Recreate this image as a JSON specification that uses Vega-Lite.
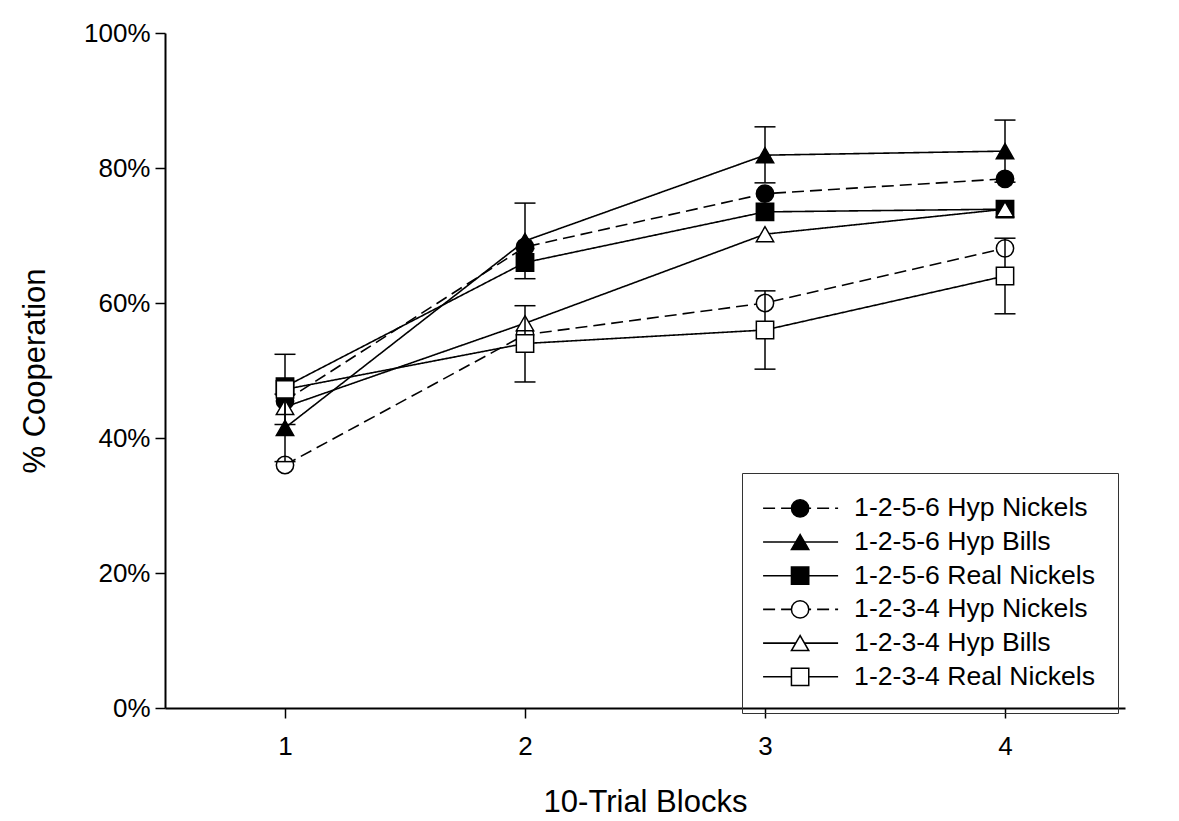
{
  "$schema": "https://vega.github.io/schema/vega-lite/v6.json",
  "width": 960,
  "height": 675,
  "autosize": {"type": "none"},
  "padding": {"left": 165, "top": 33, "right": 54, "bottom": 113},
  "background": "white",
  "config": {
    "view": {"stroke": null},
    "font": "Liberation Sans",
    "axis": {
      "grid": false,
      "labelFont": "Liberation Sans",
      "titleFont": "Liberation Sans",
      "titleFontWeight": "normal",
      "labelColor": "black",
      "titleColor": "black",
      "domainColor": "black",
      "tickColor": "black",
      "domainWidth": 2,
      "tickWidth": 1.5,
      "tickSize": 10,
      "labelFontSize": 26,
      "titleFontSize": 31
    }
  },
  "datasets": {
    "pts": [
      {"block": 1, "series": "1-2-5-6 Hyp Nickels", "group": "1-2-5-6 Hyp Nickels", "value": 45.5},
      {"block": 2, "series": "1-2-5-6 Hyp Nickels", "group": "1-2-5-6 Hyp Nickels", "value": 68.3},
      {"block": 3, "series": "1-2-5-6 Hyp Nickels", "group": "1-2-5-6 Hyp Nickels", "value": 76.2},
      {"block": 4, "series": "1-2-5-6 Hyp Nickels", "group": "1-2-5-6 Hyp Nickels", "value": 78.4},
      {"block": 1, "series": "1-2-5-6 Hyp Bills", "group": "1-2-5-6 Hyp Bills", "value": 41.5},
      {"block": 2, "series": "1-2-5-6 Hyp Bills", "group": "1-2-5-6 Hyp Bills", "value": 69.2},
      {"block": 3, "series": "1-2-5-6 Hyp Bills", "group": "1-2-5-6 Hyp Bills", "value": 81.9},
      {"block": 4, "series": "1-2-5-6 Hyp Bills", "group": "1-2-5-6 Hyp Bills", "value": 82.5},
      {"block": 1, "series": "1-2-5-6 Real Nickels", "group": "1-2-5-6 Real Nickels", "value": 47.6},
      {"block": 2, "series": "1-2-5-6 Real Nickels", "group": "1-2-5-6 Real Nickels", "value": 66.0},
      {"block": 3, "series": "1-2-5-6 Real Nickels", "group": "1-2-5-6 Real Nickels", "value": 73.5},
      {"block": 4, "series": "1-2-5-6 Real Nickels", "group": "1-2-5-6 Real Nickels", "value": 73.9},
      {"block": 1, "series": "1-2-3-4 Hyp Nickels", "group": "1-2-3-4 Hyp Nickels", "value": 36.0},
      {"block": 2, "series": "1-2-3-4 Hyp Nickels", "group": "1-2-3-4 Hyp Nickels", "value": 55.3},
      {"block": 3, "series": "1-2-3-4 Hyp Nickels", "group": "1-2-3-4 Hyp Nickels", "value": 60.0},
      {"block": 4, "series": "1-2-3-4 Hyp Nickels", "group": "1-2-3-4 Hyp Nickels", "value": 68.1},
      {"block": 1, "series": "1-2-3-4 Hyp Bills", "group": "1-2-3-4 Hyp Bills", "value": 44.6},
      {"block": 2, "series": "1-2-3-4 Hyp Bills", "group": "1-2-3-4 Hyp Bills", "value": 57.0},
      {"block": 3, "series": "1-2-3-4 Hyp Bills", "group": "1-2-3-4 Hyp Bills", "value": 70.2},
      {"block": 4, "series": "1-2-3-4 Hyp Bills", "group": "1-2-3-4 Hyp Bills", "value": 73.9},
      {"block": 1, "series": "1-2-3-4 Real Nickels", "group": "1-2-3-4 Real Nickels", "value": 47.2},
      {"block": 2, "series": "1-2-3-4 Real Nickels", "group": "1-2-3-4 Real Nickels", "value": 54.0},
      {"block": 3, "series": "1-2-3-4 Real Nickels", "group": "1-2-3-4 Real Nickels", "value": 56.0},
      {"block": 4, "series": "1-2-3-4 Real Nickels", "group": "1-2-3-4 Real Nickels", "value": 64.0}
    ],
    "err": [
      {"block": 1, "series": "1-2-5-6 Hyp Bills", "lo": 36.5, "hi": 46.5},
      {"block": 2, "series": "1-2-5-6 Hyp Bills", "lo": 63.6, "hi": 74.8},
      {"block": 3, "series": "1-2-5-6 Hyp Bills", "lo": 77.8, "hi": 86.1},
      {"block": 4, "series": "1-2-5-6 Hyp Bills", "lo": 77.9, "hi": 87.1},
      {"block": 1, "series": "1-2-3-4 Real Nickels", "lo": 42.0, "hi": 52.4},
      {"block": 2, "series": "1-2-3-4 Real Nickels", "lo": 48.3, "hi": 59.6},
      {"block": 3, "series": "1-2-3-4 Real Nickels", "lo": 50.2, "hi": 61.8},
      {"block": 4, "series": "1-2-3-4 Real Nickels", "lo": 58.4, "hi": 69.6}
    ]
  },
  "layer": [
    {
      "data": {"name": "pts"},
      "mark": {"type": "line", "color": "black", "strokeWidth": 1.6},
      "encoding": {
        "x": {
          "field": "block", "type": "quantitative", "title": "10-Trial Blocks",
          "scale": {"domain": [0.5, 4.5], "nice": false, "zero": false},
          "axis": {"values": [1, 2, 3, 4], "format": "d", "labelPadding": 15, "titlePadding": 28, "labelFlush": false}
        },
        "y": {
          "field": "value", "type": "quantitative", "title": "% Cooperation",
          "scale": {"domain": [0, 100], "nice": false},
          "axis": {"values": [0, 20, 40, 60, 80, 100], "labelExpr": "datum.value + '%'", "labelPadding": 5, "titlePadding": 32}
        },
        "strokeDash": {
          "field": "series", "type": "nominal",
          "sort": ["1-2-5-6 Hyp Nickels", "1-2-5-6 Hyp Bills", "1-2-5-6 Real Nickels", "1-2-3-4 Hyp Nickels", "1-2-3-4 Hyp Bills", "1-2-3-4 Real Nickels"],
          "scale": {
            "range": [[12, 6], [1, 0], [1, 0], [12, 6], [1, 0], [1, 0]]
          },
          "legend": {
            "orient": "none", "legendX": 577, "legendY": 440, "title": null,
            "symbolType": "M-3.41,0H14.59", "symbolSize": 69.44, "symbolStrokeColor": "black", "symbolStrokeWidth": 1.6,
            "symbolFillColor": "transparent",
            "labelFont": "Liberation Sans", "labelFontSize": 26.6, "labelColor": "black", "labelOffset": 63.5, "labelLimit": 400,
            "rowPadding": 6.7, "padding": 22, "strokeColor": "#333333"
          }
        }
      }
    },
    {
      "data": {"name": "pts"},
      "transform": [{"filter": "datum.series !== '1-2-5-6 Hyp Bills' && datum.series !== '1-2-3-4 Real Nickels'"}],
      "mark": {"type": "point", "filled": true, "strokeWidth": 1.5, "size": 300, "opacity": 1},
      "encoding": {
        "x": {"field": "block", "type": "quantitative", "title": "10-Trial Blocks"},
        "y": {"field": "value", "type": "quantitative", "title": "% Cooperation"},
        "shape": {
          "field": "group", "type": "nominal",
          "scale": {
            "domain": ["1-2-5-6 Hyp Nickels", "1-2-5-6 Hyp Bills", "1-2-5-6 Real Nickels", "1-2-3-4 Hyp Nickels", "1-2-3-4 Hyp Bills", "1-2-3-4 Real Nickels"],
            "range": ["circle", "triangle-up", "square", "circle", "triangle-up", "square"]
          },
          "legend": {
            "orient": "none", "legendX": 599.8, "legendY": 440, "title": null,
            "symbolSize": 300, "symbolStrokeColor": "black", "symbolStrokeWidth": 1.5,
            "labelExpr": "' '", "labelFont": "Liberation Sans", "labelFontSize": 26.6, "labelOpacity": 0, "labelOffset": 0, "labelLimit": 400,
            "rowPadding": 6.7, "padding": 22
          }
        },
        "fill": {
          "field": "group", "type": "nominal",
          "scale": {
            "domain": ["1-2-5-6 Hyp Nickels", "1-2-5-6 Hyp Bills", "1-2-5-6 Real Nickels", "1-2-3-4 Hyp Nickels", "1-2-3-4 Hyp Bills", "1-2-3-4 Real Nickels"],
            "range": ["black", "black", "black", "white", "white", "white"]
          },
          "legend": {
            "orient": "none", "legendX": 599.8, "legendY": 440, "title": null,
            "symbolSize": 300, "symbolStrokeColor": "black", "symbolStrokeWidth": 1.5,
            "labelExpr": "' '", "labelFont": "Liberation Sans", "labelFontSize": 26.6, "labelOpacity": 0, "labelOffset": 0, "labelLimit": 400,
            "rowPadding": 6.7, "padding": 22
          }
        },
        "stroke": {
          "field": "group", "type": "nominal",
          "scale": {
            "domain": ["1-2-5-6 Hyp Nickels", "1-2-5-6 Hyp Bills", "1-2-5-6 Real Nickels", "1-2-3-4 Hyp Nickels", "1-2-3-4 Hyp Bills", "1-2-3-4 Real Nickels"],
            "range": ["black", "black", "black", "black", "black", "black"]
          },
          "legend": {
            "orient": "none", "legendX": 599.8, "legendY": 440, "title": null,
            "symbolSize": 300, "symbolStrokeColor": "black", "symbolStrokeWidth": 1.5,
            "labelExpr": "' '", "labelFont": "Liberation Sans", "labelFontSize": 26.6, "labelOpacity": 0, "labelOffset": 0, "labelLimit": 400,
            "rowPadding": 6.7, "padding": 22
          }
        }
      }
    },
    {
      "data": {"name": "err"},
      "mark": {"type": "rule", "color": "black", "strokeWidth": 1.5},
      "encoding": {
        "x": {"field": "block", "type": "quantitative", "title": "10-Trial Blocks"},
        "y": {"field": "lo", "type": "quantitative", "title": "% Cooperation"},
        "y2": {"field": "hi"}
      }
    },
    {
      "data": {"name": "err"},
      "mark": {"type": "tick", "orient": "horizontal", "color": "black", "size": 21, "thickness": 1.5, "opacity": 1},
      "encoding": {
        "x": {"field": "block", "type": "quantitative", "title": "10-Trial Blocks"},
        "y": {"field": "hi", "type": "quantitative", "title": "% Cooperation"}
      }
    },
    {
      "data": {"name": "err"},
      "mark": {"type": "tick", "orient": "horizontal", "color": "black", "size": 21, "thickness": 1.5, "opacity": 1},
      "encoding": {
        "x": {"field": "block", "type": "quantitative", "title": "10-Trial Blocks"},
        "y": {"field": "lo", "type": "quantitative", "title": "% Cooperation"}
      }
    },
    {
      "data": {"name": "pts"},
      "transform": [{"filter": "datum.series === '1-2-5-6 Hyp Bills' || datum.series === '1-2-3-4 Real Nickels'"}],
      "mark": {"type": "point", "filled": true, "strokeWidth": 1.5, "size": 300, "opacity": 1},
      "encoding": {
        "x": {"field": "block", "type": "quantitative", "title": "10-Trial Blocks"},
        "y": {"field": "value", "type": "quantitative", "title": "% Cooperation"},
        "shape": {"field": "group", "type": "nominal"},
        "fill": {"field": "group", "type": "nominal"},
        "stroke": {"field": "group", "type": "nominal"}
      }
    },
    {
      "mark": {"type": "rule", "color": "black", "strokeWidth": 2},
      "encoding": {"y": {"datum": 100, "type": "quantitative"}}
    }
  ]
}
